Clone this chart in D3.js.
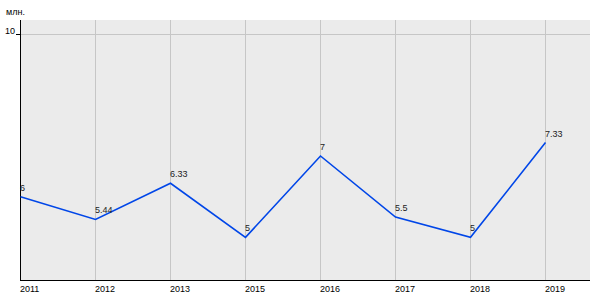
<!DOCTYPE html>
<html><head><meta charset="utf-8">
<script src="https://cdn.jsdelivr.net/npm/d3@7"></script>
<style>body{margin:0;background:#fff;}svg{display:block;font-family:"Liberation Sans",Arial,sans-serif;}</style>
</head><body><svg id="c" width="600" height="300"></svg>
<script>
const years = ["2011","2012","2013","2015","2016","2017","2018","2019"];
const values = [6, 5.44, 6.33, 5, 7, 5.5, 5, 7.33];
const valueLabels = ["6","5.44","6.33","5","7","5.5","5","7.33"];
const yTicks = [10];
const unitLabel = "млн.";

(function(){
const svg = d3.select("#c");
const pl = 20, pr = 590, pt = 20, pb = 280;
const x = d3.scaleLinear().domain([0, 7.6]).range([pl, pr]);
const y = d3.scaleLinear().domain([4, 10]).range([278, 34]);

svg.append("rect").attr("x", pl).attr("y", pt).attr("width", pr-pl).attr("height", pb-pt).attr("fill", "#ebebeb");

svg.append("g").selectAll("line").data(years.slice(1)).join("line")
  .attr("x1", (d,i)=>x(i+1)+0.5).attr("x2", (d,i)=>x(i+1)+0.5)
  .attr("y1", pt).attr("y2", pb).attr("stroke", "#c6c6c6").attr("stroke-width", 1);
svg.append("g").selectAll("line").data(yTicks).join("line")
  .attr("x1", pl).attr("x2", pr).attr("y1", d=>Math.round(y(d))+0.5).attr("y2", d=>Math.round(y(d))+0.5)
  .attr("stroke", "#c6c6c6").attr("stroke-width", 1);

svg.append("line").attr("x1", pl+0.5).attr("x2", pl+0.5).attr("y1", pt).attr("y2", pb+0.5).attr("stroke", "#000");
svg.append("line").attr("x1", pl).attr("x2", pr).attr("y1", pb+0.5).attr("y2", pb+0.5).attr("stroke", "#000");

svg.append("g").selectAll("line").data(yTicks).join("line")
  .attr("x1", pl-4).attr("x2", pl).attr("y1", d=>Math.round(y(d))+0.5).attr("y2", d=>Math.round(y(d))+0.5).attr("stroke", "#000");
svg.append("g").selectAll("text").data(yTicks).join("text")
  .attr("x", pl-5).attr("y", d=>y(d)).attr("text-anchor", "end")
  .attr("font-size", 9).attr("fill", "#000").text(d=>d);
svg.append("text").attr("x", 6).attr("y", 15).attr("font-size", 9).attr("fill", "#000").text(unitLabel);

svg.append("g").selectAll("text").data(years).join("text")
  .attr("x", (d,i)=>x(i)).attr("y", 292).attr("font-size", 9).attr("fill", "#000").text(d=>d);

const line = d3.line().x((d,i)=>x(i)+0.5).y(d=>y(d));
svg.append("path").datum(values).attr("d", line).attr("fill", "none")
  .attr("stroke", "#0046e8").attr("stroke-width", 1.6);

svg.append("g").selectAll("text").data(values).join("text")
  .attr("x", (d,i)=>x(i)).attr("y", d=>y(d)-6).attr("font-size", 9).attr("fill", "#222")
  .text((d,i)=>valueLabels[i]);
})();
</script></body></html>
